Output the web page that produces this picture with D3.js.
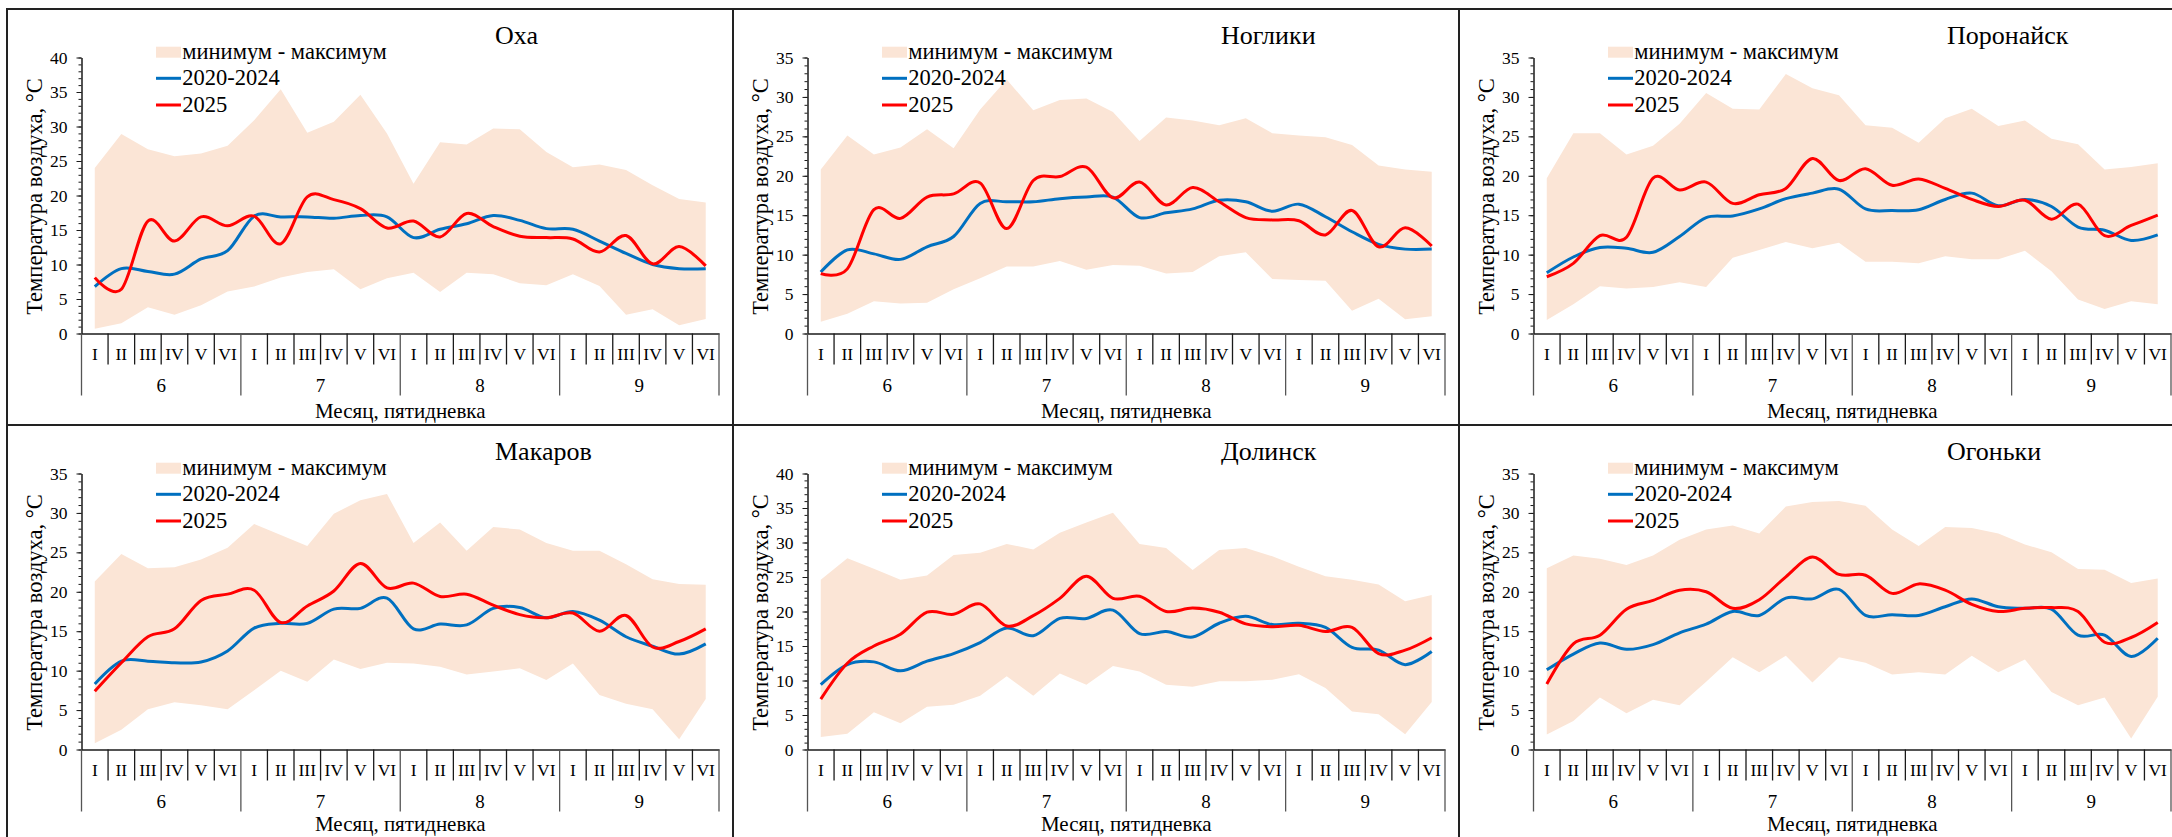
<!DOCTYPE html>
<html><head><meta charset="utf-8">
<script src="https://cdn.jsdelivr.net/npm/d3@7"></script>
<style>
body{margin:0;background:#fff}
svg{display:block}
svg text{font-family:'Liberation Serif','Tinos','Times New Roman','DejaVu Serif',serif !important;fill:#000}
</style>
</head><body>
<svg id="c" width="2172" height="837"></svg>
<script>
const months = ["6","7","8","9"];
const pentads = ["I","II","III","IV","V","VI"];
const stations = ["Оха","Ноглики","Поронайск","Макаров","Долинск","Огоньки"];
const yMaxima = [40,35,35,35,40,35];
const legendLabels = ["минимум - максимум","2020-2024","2025"];
const yTitle = "Температура воздуха, °С";
const xTitle = "Месяц, пятидневка";

const okhaMax = [24.0,28.9,26.7,25.7,26.1,27.2,30.9,35.4,29.1,30.7,34.6,29.0,21.7,27.7,27.4,29.7,29.6,26.3,24.1,24.5,23.7,21.5,19.5,19.0];
const okhaMin = [0.7,1.5,3.8,2.7,4.1,6.1,6.8,8.1,8.9,9.3,6.4,8.0,8.8,6.0,8.8,8.6,7.3,7.0,8.6,6.9,2.7,3.5,1.2,2.1];
const okhaAvg = [6.8,9.4,9.0,8.6,10.8,12.0,17.0,16.9,16.9,16.7,17.1,16.9,13.9,15.1,15.9,17.1,16.4,15.2,15.1,13.4,11.6,10.0,9.4,9.4];
const okha2025 = [8.1,6.4,16.3,13.4,16.9,15.6,17.0,13.0,19.8,19.4,18.1,15.3,16.3,14.0,17.4,15.5,14.1,13.9,13.7,11.8,14.2,10.1,12.6,9.8];

const noglMax = [20.8,25.1,22.7,23.6,25.9,23.5,28.4,32.2,28.3,29.6,29.8,28.1,24.4,27.4,27.0,26.4,27.3,25.4,25.1,24.9,23.9,21.3,20.8,20.5];
const noglMin = [1.5,2.5,4.1,3.8,3.9,5.6,7.0,8.5,8.5,9.2,8.1,8.7,8.6,7.6,7.8,9.8,10.3,6.9,6.8,6.7,2.9,4.4,1.8,2.2];
const noglAvg = [7.8,10.6,10.1,9.4,11.0,12.3,16.5,16.7,16.7,17.1,17.3,17.3,14.7,15.3,15.8,16.9,16.7,15.5,16.4,14.8,12.9,11.3,10.7,10.7];
const nogl2025 = [7.6,8.2,15.7,14.6,17.3,17.7,19.1,13.3,19.4,19.9,21.1,17.2,19.2,16.3,18.5,16.7,14.7,14.4,14.3,12.5,15.6,11.0,13.4,11.1];

const poroMax = [19.7,25.4,25.4,22.7,23.8,26.6,30.5,28.5,28.4,32.9,31.1,30.2,26.4,26.1,24.2,27.3,28.5,26.3,27.0,24.7,24.0,20.8,21.1,21.6];
const poroMin = [1.7,3.7,6.0,5.7,5.9,6.5,5.9,9.6,10.6,11.6,10.8,11.5,9.1,9.1,8.9,9.8,9.4,9.4,10.5,7.9,4.3,3.1,4.1,3.7];
const poroAvg = [7.7,9.7,10.9,10.8,10.3,12.3,14.7,14.9,15.8,17.1,17.8,18.3,15.8,15.6,15.7,17.0,17.8,16.2,17.0,16.1,13.5,13.1,11.8,12.5];
const poro2025 = [7.2,8.9,12.4,12.2,19.7,18.2,19.2,16.5,17.6,18.4,22.2,19.4,20.9,18.8,19.6,18.4,17.0,16.1,16.9,14.5,16.4,12.4,13.7,15.0];

const makaMax = [21.3,24.8,23.0,23.1,24.1,25.6,28.6,27.2,25.8,29.9,31.6,32.4,26.2,28.8,25.2,28.2,27.9,26.2,25.2,25.2,23.5,21.6,21.0,20.9];
const makaMin = [0.8,2.5,5.1,6.0,5.6,5.1,7.5,10.0,8.6,11.4,10.2,11.0,10.9,10.5,9.5,9.9,10.3,8.8,10.9,6.9,5.8,5.1,1.3,6.4];
const makaAvg = [8.3,11.2,11.2,11.0,11.1,12.5,15.4,16.0,16.0,17.8,17.9,19.2,15.3,15.9,15.8,17.9,18.0,16.7,17.5,16.4,14.3,13.1,12.1,13.4];
const maka2025 = [7.4,11.0,14.3,15.3,18.9,19.7,20.2,16.1,18.2,20.1,23.6,20.5,21.1,19.4,19.7,18.3,17.1,16.7,17.3,15.0,17.0,13.0,13.7,15.3];

const doliMax = [24.6,27.7,26.2,24.6,25.2,28.2,28.5,29.8,29.0,31.4,32.9,34.3,29.8,29.2,26.0,28.9,29.2,28.0,26.5,25.1,24.6,23.9,21.5,22.4];
const doliMin = [1.8,2.3,5.4,3.8,6.2,6.5,7.8,10.6,7.8,11.0,9.4,12.1,11.3,9.4,9.1,9.9,9.9,10.1,10.9,8.9,5.5,5.1,2.2,6.9];
const doliAvg = [9.4,12.3,12.7,11.4,12.8,13.9,15.5,17.6,16.5,19.0,19.0,20.2,16.8,17.1,16.3,18.3,19.3,18.1,18.3,17.7,14.8,14.4,12.3,14.2];
const doli2025 = [7.3,12.5,15.0,16.7,19.9,19.6,21.1,17.9,19.4,21.9,25.1,21.9,22.2,20.0,20.5,19.9,18.2,17.8,18.0,17.1,17.7,13.9,14.4,16.2];

const ogonMax = [23.0,24.6,24.2,23.4,24.6,26.6,27.9,28.4,27.4,30.8,31.4,31.5,30.9,27.9,25.8,28.2,28.1,27.4,26.0,25.0,22.9,22.8,21.1,21.7];
const ogonMin = [1.9,3.6,6.6,4.6,6.3,5.6,8.6,11.7,9.8,11.9,8.5,11.7,11.0,9.5,9.8,9.5,11.9,9.8,11.4,7.3,5.6,6.6,1.4,6.7];
const ogonAvg = [10.1,12.1,13.5,12.7,13.3,14.8,15.9,17.5,17.0,19.2,19.1,20.3,17.0,17.1,17.0,18.1,19.1,18.1,17.9,17.8,14.5,14.5,11.8,14.1];
const ogon2025 = [8.3,13.4,14.5,17.8,18.9,20.2,20.0,17.9,19.0,21.9,24.4,22.2,22.1,19.8,21.0,20.2,18.4,17.5,17.9,18.0,17.5,13.6,14.2,16.1];

const panelData = [
  {min: okhaMin, max: okhaMax, avg: okhaAvg, cur: okha2025},
  {min: noglMin, max: noglMax, avg: noglAvg, cur: nogl2025},
  {min: poroMin, max: poroMax, avg: poroAvg, cur: poro2025},
  {min: makaMin, max: makaMax, avg: makaAvg, cur: maka2025},
  {min: doliMin, max: doliMax, avg: doliAvg, cur: doli2025},
  {min: ogonMin, max: ogonMax, avg: ogonAvg, cur: ogon2025}
];

const FONT = "'Liberation Serif', 'Tinos', 'Times New Roman', 'DejaVu Serif', serif";
const BAND = "#FBE5D6", BLUE = "#0070C0", RED = "#FF0000", INK = "#1a1a1a";
const svg = d3.select("#c");
const W = 726, H = 416;
const lefts = [7, 733, 1459], tops = [9, 425];
const xTitleY = [409, 405.5];
const pl = 74.5, pw = 637.5, pt = 48.5, pb = 324.5;
const keys = months.flatMap(m => pentads.map(p => m + "-" + p));

panelData.forEach((pd, i) => {
  const col = i % 3, row = Math.floor(i / 3);
  const g = svg.append("g").attr("transform", `translate(${lefts[col]},${tops[row]})`)
    .attr("font-family", FONT);
  const yMax = yMaxima[i];
  const x = d3.scaleBand().domain(keys).range([pl, pl + pw]).padding(0);
  const cx = k => x(k) + x.bandwidth() / 2;
  const y = d3.scaleLinear().domain([0, yMax]).range([pb, pt]);

  const area = d3.area()
    .x((d, j) => cx(keys[j]))
    .y0((d, j) => y(pd.min[j]))
    .y1((d, j) => y(pd.max[j]));
  g.append("path").datum(pd.max).attr("d", area).attr("fill", BAND);

  const line = d3.line()
    .x((d, j) => cx(keys[j]))
    .y(d => y(d))
    .curve(d3.curveCardinal.tension(0));
  g.append("path").datum(pd.avg).attr("d", line).attr("fill", "none")
    .attr("stroke", BLUE).attr("stroke-width", 3).attr("stroke-linejoin", "round");
  g.append("path").datum(pd.cur).attr("d", line).attr("fill", "none")
    .attr("stroke", RED).attr("stroke-width", 3).attr("stroke-linejoin", "round");

  const minor = g.append("g").attr("transform", `translate(${pl},0)`)
    .call(d3.axisLeft(y).tickValues(d3.range(0, yMax + 1, 1)).tickSize(3).tickSizeOuter(0).tickFormat(""));
  minor.select(".domain").remove();
  minor.selectAll("line").attr("stroke", INK);
  const ya = g.append("g").attr("transform", `translate(${pl},0)`)
    .call(d3.axisLeft(y).tickValues(d3.range(0, yMax + 1, 5)).tickSize(5).tickSizeOuter(0).tickPadding(9));
  ya.attr("font-family", FONT).attr("font-size", 17.5);
  ya.select(".domain").attr("stroke", INK).attr("stroke-width", 1.5);
  ya.selectAll("line").attr("stroke", INK);
  ya.selectAll("text").attr("fill", "#000");

  const xa = g.append("g").attr("transform", `translate(0,${pb})`)
    .call(d3.axisBottom(x).tickSize(0).tickSizeOuter(0).tickPadding(14.3).tickFormat(k => k.split("-")[1]));
  xa.attr("font-family", FONT).attr("font-size", 17.5);
  xa.select(".domain").attr("stroke", INK).attr("stroke-width", 1.5);
  xa.selectAll("text").attr("fill", "#000");

  const bounds = d3.range(0, 25).map(j => j < 24 ? x(keys[j]) : x.range()[1]);
  g.append("g").selectAll("line").data(bounds).join("line")
    .attr("x1", d => d).attr("x2", d => d)
    .attr("y1", pb).attr("y2", (d, j) => pb + (j % 6 === 0 ? 62 : 31))
    .attr("stroke", (d, j) => j % 6 === 0 ? "#555" : INK).attr("stroke-width", 1.3);

  g.append("g").selectAll("text").data(months).join("text")
    .attr("x", (m, k) => (x(keys[k * 6]) + x(keys[k * 6 + 5]) + x.bandwidth()) / 2)
    .attr("y", pb + 58.4).attr("text-anchor", "middle").attr("font-size", 19).text(m => m);

  g.append("text").attr("x", pl + pw / 2).attr("y", xTitleY[row]).attr("text-anchor", "middle")
    .attr("font-size", 21).text(xTitle);
  g.append("text").attr("transform", `translate(34.5,187.5) rotate(-90)`)
    .attr("text-anchor", "middle").attr("font-size", 22.5).text(yTitle);
  g.append("text").attr("x", 488).attr("y", 35).attr("font-size", 26).text(stations[i]);

  const lg = g.append("g");
  lg.append("rect").attr("x", 149).attr("y", 37.7).attr("width", 25).attr("height", 11).attr("fill", BAND);
  lg.append("line").attr("x1", 149).attr("x2", 174).attr("y1", 69.3).attr("y2", 69.3).attr("stroke", BLUE).attr("stroke-width", 3);
  lg.append("line").attr("x1", 149).attr("x2", 174).attr("y1", 96).attr("y2", 96).attr("stroke", RED).attr("stroke-width", 3);
  lg.selectAll("text").data(legendLabels).join("text")
    .attr("x", 175.3).attr("y", (d, k) => 50 + k * 26.4).attr("font-size", 22.5).text(d => d);
});

[0,1,2,3,4,5].forEach(i => {
  const col = i % 3, row = Math.floor(i / 3);
  svg.append("rect").attr("x", lefts[col]).attr("y", tops[row]).attr("width", W).attr("height", H)
    .attr("fill", "none").attr("stroke", "#222").attr("stroke-width", 2);
});
</script>
</body></html>
